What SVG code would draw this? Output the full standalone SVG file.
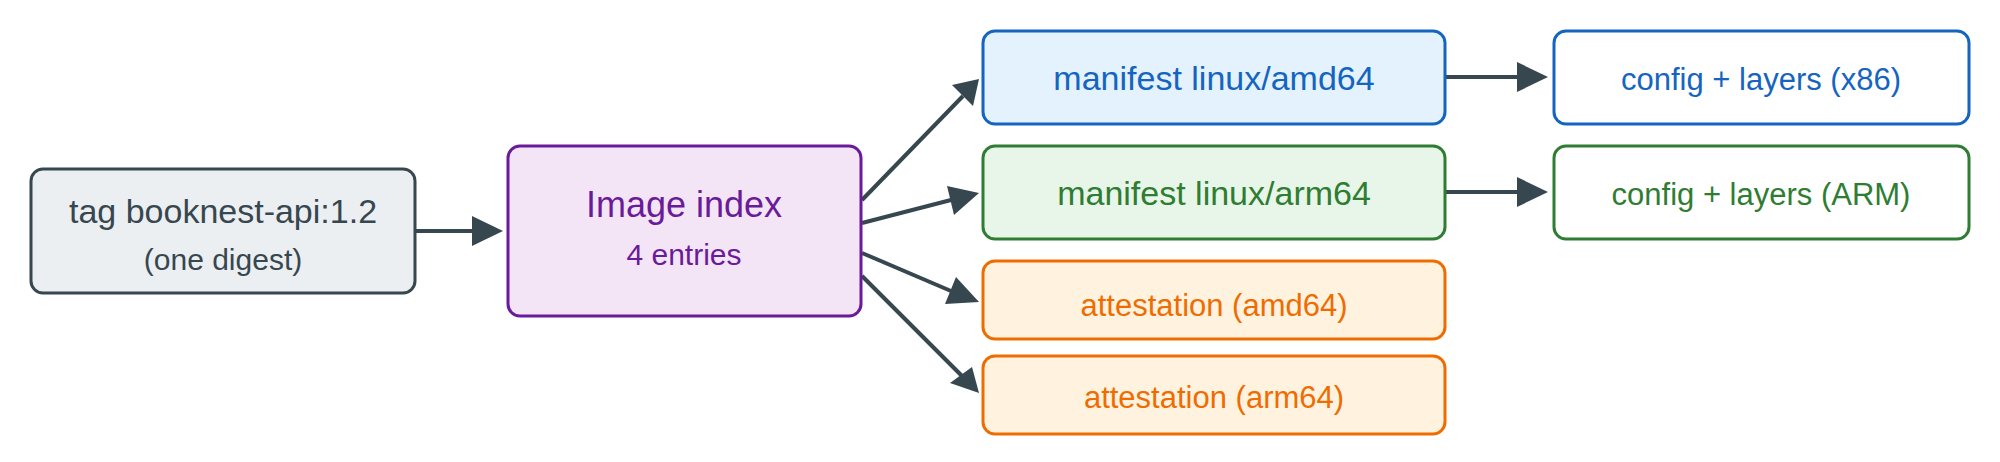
<svg xmlns="http://www.w3.org/2000/svg" width="2000" height="462" viewBox="0 0 2000 462">
<style>
text{font-family:"Liberation Sans",Arial,sans-serif;text-anchor:middle}
rect{stroke-width:3}
.c{stroke:#37474f;stroke-width:4;fill:none}
.h{fill:#37474f}
</style>
<rect width="2000" height="462" fill="#fff" stroke="none"/>
<g id="connectors">
<line class="c" x1="415" y1="231" x2="472" y2="231"/><path class="h" d="M472,216L503,231L472,246z"/>
<line class="c" x1="862" y1="200" x2="963" y2="96"/><path class="h" d="M952,85L979,79L973,106z"/>
<line class="c" x1="862" y1="223" x2="951" y2="200"/><path class="h" d="M947,186L979,193L954,215z"/>
<line class="c" x1="862" y1="253" x2="951" y2="291"/><path class="h" d="M956,277L979,302L945,304z"/>
<line class="c" x1="862" y1="276" x2="962" y2="376"/><path class="h" d="M972,367L979,393L950,383z"/>
<line class="c" x1="1445" y1="77" x2="1518" y2="77"/><path class="h" d="M1517,62L1548,77L1517,92z"/>
<line class="c" x1="1445" y1="192" x2="1518" y2="192"/><path class="h" d="M1517,177L1548,192L1517,207z"/>
</g>
<g id="tag"><rect x="31" y="169" width="384" height="124" rx="12" fill="#eceff1" stroke="#37474f"/>
<text x="223" y="223" font-size="34" fill="#37474f">tag booknest-api:1.2</text>
<text x="223" y="270" font-size="30" fill="#37474f">(one digest)</text></g>
<g id="index"><rect x="508" y="146" width="353" height="170" rx="12" fill="#f3e5f5" stroke="#6a1b9a"/>
<text x="684" y="217" font-size="36" fill="#6a1b9a">Image index</text>
<text x="684" y="265" font-size="30" fill="#6a1b9a">4 entries</text></g>
<g id="m-amd"><rect x="983" y="31" width="462" height="93" rx="12" fill="#e3f2fd" stroke="#1565c0"/>
<text x="1214" y="90" font-size="34" fill="#1565c0">manifest linux/amd64</text></g>
<g id="m-arm"><rect x="983" y="146" width="462" height="93" rx="12" fill="#e8f5e9" stroke="#2e7d32"/>
<text x="1214" y="205" font-size="34" fill="#2e7d32">manifest linux/arm64</text></g>
<g id="a-amd"><rect x="983" y="261" width="462" height="78" rx="12" fill="#fff3e0" stroke="#ef6c00"/>
<text x="1214" y="316" font-size="31" fill="#ef6c00">attestation (amd64)</text></g>
<g id="a-arm"><rect x="983" y="356" width="462" height="78" rx="12" fill="#fff3e0" stroke="#ef6c00"/>
<text x="1214" y="408" font-size="31" fill="#ef6c00">attestation (arm64)</text></g>
<g id="c-x86"><rect x="1554" y="31" width="415" height="93" rx="12" fill="#fff" stroke="#1565c0"/>
<text x="1761" y="90" font-size="31" fill="#1565c0">config + layers (x86)</text></g>
<g id="c-arm"><rect x="1554" y="146" width="415" height="93" rx="12" fill="#fff" stroke="#2e7d32"/>
<text x="1761" y="205" font-size="31" fill="#2e7d32">config + layers (ARM)</text></g>
</svg>
